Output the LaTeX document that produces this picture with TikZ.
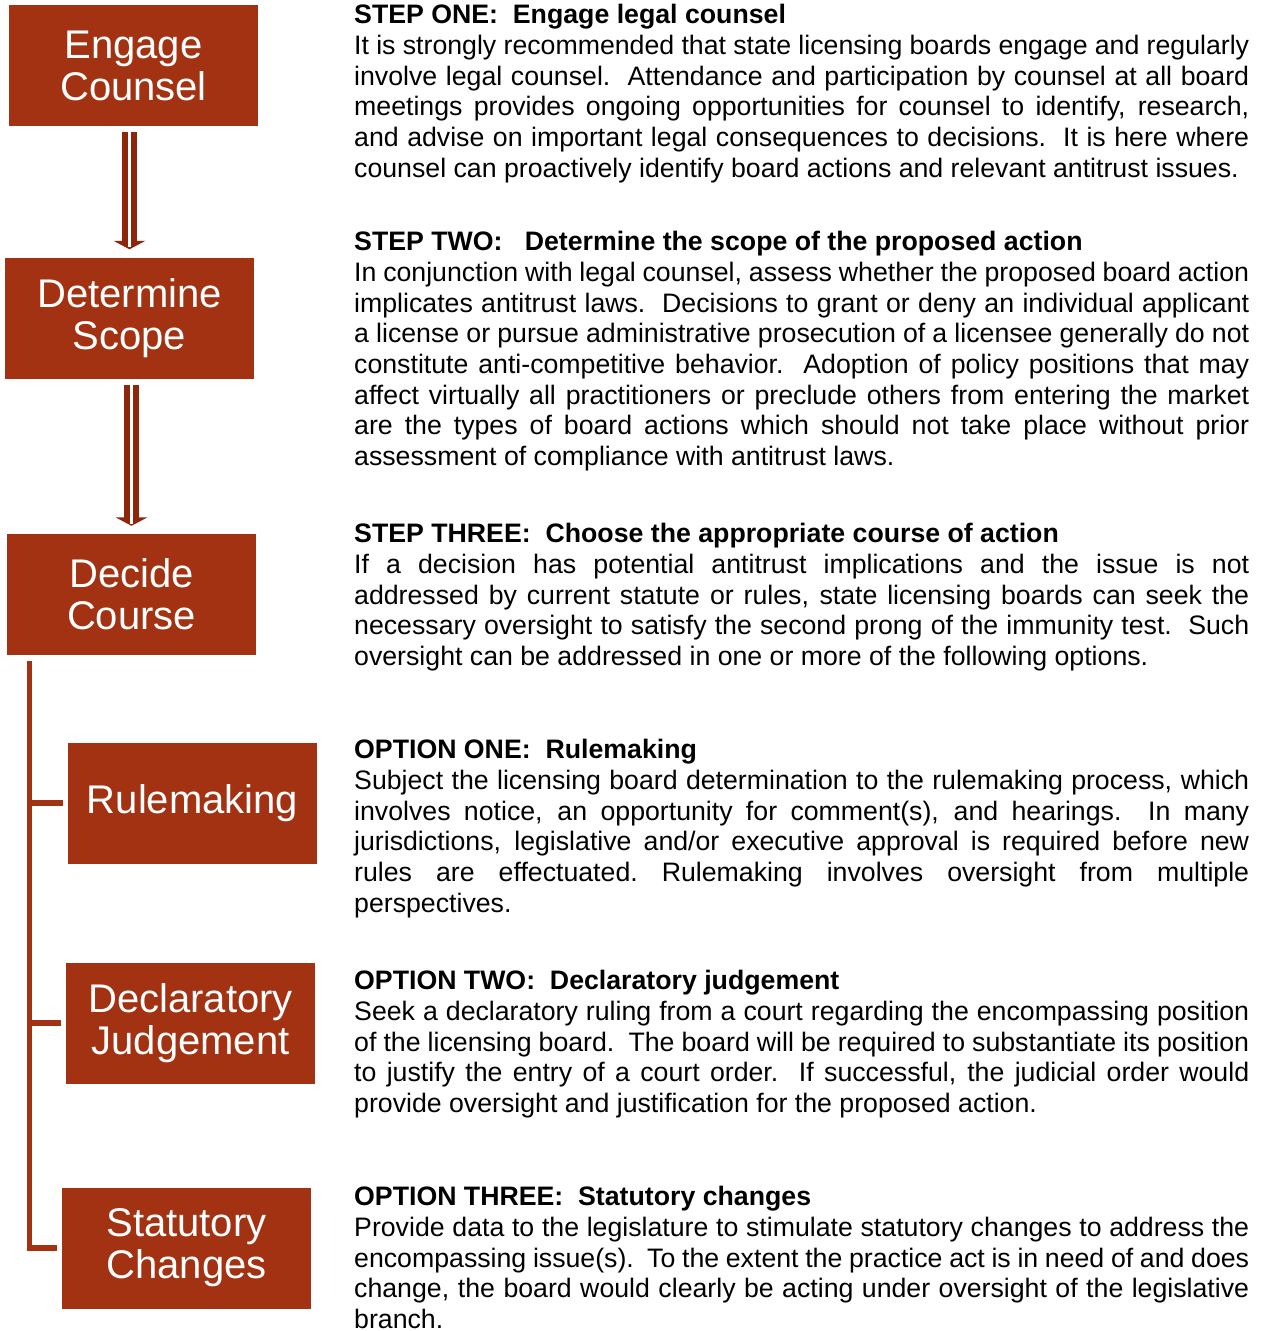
\documentclass[tikz,border=0pt]{standalone}
\usepackage{fontspec}
\setmainfont{Liberation Sans}
\definecolor{boxred}{RGB}{163,50,18}
\definecolor{arrred}{RGB}{142,38,12}
\newlength{\tw}\setlength{\tw}{895pt}
\newcommand{\jl}[1]{\makebox[\tw][s]{\strut #1}}
\newcommand{\el}[1]{\makebox[\tw][l]{\strut #1}}
\newcommand{\nl}[1]{\makebox[\tw][l]{#1}}
\newcommand{\hl}[1]{\makebox[\tw][l]{\strut\bfseries #1}}
\tikzset{
 stepbox/.style={fill=boxred, text=white, minimum width=249pt, minimum height=121pt, inner sep=0pt, align=center, font=\fontsize{40}{42}\selectfont},
 desc/.style={inner sep=0pt, anchor=north west, align=left, font=\fontsize{26.7}{30.7}\selectfont},
 shaft/.style={draw=arrred, line width=5.6pt, double=white, double distance=3.7pt},
 bracket/.style={draw=boxred, line width=5.6pt},
}
\begin{document}
\begin{tikzpicture}[x=1pt,y=-1pt]
\useasboundingbox (0,0) rectangle (1261,1331);
% boxes
\node[stepbox] (engage) at (133.5,65.5) {Engage\\Counsel};
\node[stepbox] (scope) at (129.5,318) {Determine\\Scope};
\node[stepbox] (decide) at (131.5,594.5) {Decide\\Course};
\node[stepbox] (rule) at (192.5,803) {Rulemaking};
\node[stepbox] (decl) at (190.5,1023) {Declaratory\\Judgement};
\node[stepbox] (stat) at (186.5,1248) {Statutory\\Changes};
% double arrows
\foreach \a/\b in {engage/scope, scope/decide}{
  \coordinate (s) at ([yshift=-6pt]\a.south -| \b.north);
  \coordinate (t) at ([yshift=8pt]\b.north);
  \draw[shaft] (s) -- ([yshift=8pt]t);
  \fill[arrred] ([xshift=-16pt,yshift=8.5pt]t) -- ([xshift=16pt,yshift=8.5pt]t) -- (t) -- cycle;
  \draw[white, line width=2.6pt] ([yshift=9pt]t) -- ([yshift=2pt]t);
}
% bracket
\coordinate (trunk) at ([yshift=-6pt]decide.south -| 29.5,0);
\draw[bracket] (trunk) |- ([xshift=-5pt]stat.west);
\draw[bracket] (trunk |- rule.west) -- ([xshift=-5pt]rule.west);
\draw[bracket] (trunk |- decl.west) -- ([xshift=-5pt]decl.west);
% descriptions
\node[desc] (t1) at (354,2) {%
\hl{STEP ONE:\ \ Engage legal counsel}\\
\jl{It is strongly recommended that state licensing boards engage and regularly}\\
\jl{involve legal counsel.\ \ Attendance and participation by counsel at all board}\\
\jl{meetings provides ongoing opportunities for counsel to identify, research,}\\
\jl{and advise on important legal consequences to decisions.\ \ It is here where}\\
\el{counsel can proactively identify board actions and relevant antitrust issues.}};
\node[desc] (t2) at (354,229) {%
\hl{STEP TWO:\ \ \ Determine the scope of the proposed action}\\
\jl{In conjunction with legal counsel, assess whether the proposed board action}\\
\jl{implicates antitrust laws.\ \ Decisions to grant or deny an individual applicant}\\
\jl{a license or pursue administrative prosecution of a licensee generally do not}\\
\jl{constitute anti-competitive behavior.\ \ Adoption of policy positions that may}\\
\jl{affect virtually all practitioners or preclude others from entering the market}\\
\jl{are the types of board actions which should not take place without prior}\\
\el{assessment of compliance with antitrust laws.}};
\node[desc] (t3) at (354,521) {%
\hl{STEP THREE:\ \ Choose the appropriate course of action}\\
\jl{If a decision has potential antitrust implications and the issue is not}\\
\jl{addressed by current statute or rules, state licensing boards can seek the}\\
\jl{necessary oversight to satisfy the second prong of the immunity test.\ \ Such}\\
\el{oversight can be addressed in one or more of the following options.}};
\node[desc] (o1) at (354,737) {%
\hl{OPTION ONE:\ \ Rulemaking}\\
\jl{Subject the licensing board determination to the rulemaking process, which}\\
\jl{involves notice, an opportunity for comment(s), and hearings.\ \ In many}\\
\jl{jurisdictions, legislative and/or executive approval is required before new}\\
\jl{rules are effectuated.\ Rulemaking involves oversight from multiple}\\
\el{perspectives.}};
\node[desc] (o2) at (354,968) {%
\hl{OPTION TWO:\ \ Declaratory judgement}\\
\jl{Seek a declaratory ruling from a court regarding the encompassing position}\\
\jl{of the licensing board.\ \ The board will be required to substantiate its position}\\
\jl{to justify the entry of a court order.\ \ If successful, the judicial order would}\\
\el{provide oversight and justification for the proposed action.}};
\node[desc] (o3) at (354,1184) {%
\hl{OPTION THREE:\ \ Statutory changes}\\
\jl{Provide data to the legislature to stimulate statutory changes to address the}\\
\jl{encompassing issue(s).\ \ To the extent the practice act is in need of and does}\\
\jl{change, the board would clearly be acting under oversight of the legislative}\\
\nl{branch.}};
\end{tikzpicture}
\end{document}
